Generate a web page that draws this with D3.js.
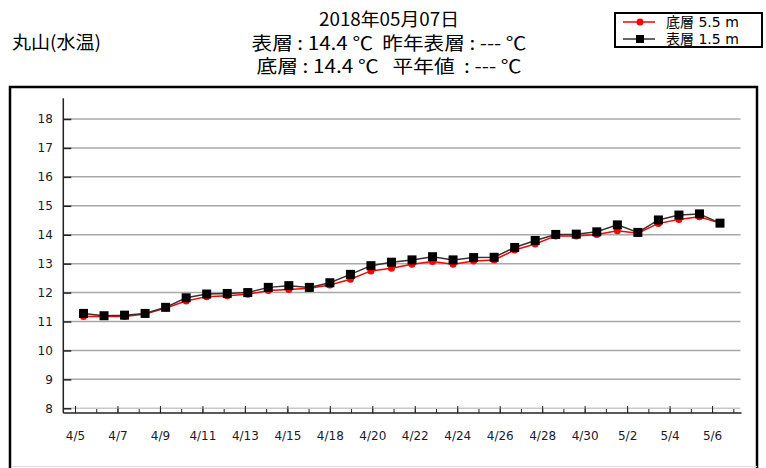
<!DOCTYPE html>
<html>
<head>
<meta charset="utf-8">
<script src="https://cdn.jsdelivr.net/npm/d3@7"></script>
<style>
    body { margin: 0; background: #fff; }
    .canvas { width: 766px; height: 468px; display: block; }
    .jp { font-family: 'Noto Sans CJK JP', sans-serif; white-space: pre; }
    .lg { font-family: 'DejaVu Sans', 'Noto Sans CJK JP', sans-serif; font-size: 14px; }
    .tick text { font-family: 'DejaVu Sans', sans-serif; font-size: 12px; fill: #1a1a2a; }
</style>
</head>
<body>
<svg class="canvas"></svg>
<script>
// chart data
const dates = ['4/5', '4/6', '4/7', '4/8', '4/9', '4/10', '4/11', '4/12', '4/13', '4/14', '4/15', '4/17',
    '4/18', '4/19', '4/20', '4/21', '4/22', '4/23', '4/24', '4/25', '4/26', '4/27', '4/28', '4/29', '4/30',
    '5/1', '5/2', '5/3', '5/4', '5/5', '5/6', '5/7'];
const bottomLayer = [11.17, 11.18, 11.17, 11.26, 11.47, 11.71, 11.86, 11.89, 11.94, 12.07, 12.11, 12.15,
    12.26, 12.46, 12.75, 12.84, 12.98, 13.07, 12.98, 13.09, 13.13, 13.47, 13.68, 13.96, 13.96,
    14.01, 14.14, 14.05, 14.39, 14.53, 14.62, 14.4];
const surfaceLayer = [11.28, 11.2, 11.22, 11.28, 11.49, 11.82, 11.95, 11.97, 12.0, 12.18, 12.24, 12.18,
    12.34, 12.63, 12.93, 13.05, 13.13, 13.24, 13.13, 13.21, 13.22, 13.56, 13.8, 14.01, 14.02,
    14.1, 14.34, 14.08, 14.51, 14.68, 14.72, 14.4];
const yTicks = [8, 9, 10, 11, 12, 13, 14, 15, 16, 17, 18];
const xLabels = dates.filter((d, i) => i % 2 === 0);
const titleLines = ['2018年05月07日', '表層 : 14.4 ℃  昨年表層 : --- ℃', '底層 : 14.4 ℃   平年値  : --- ℃'];
const stationName = '丸山(水温)';
const seriesNames = ['底層 5.5 m', '表層 1.5 m'];

const svg = d3.select('.canvas');

// header texts
svg.append('text')
    .attr('class', 'jp')
    .attr('x', 12)
    .attr('y', 49)
    .attr('textLength', 89)
    .attr('lengthAdjust', 'spacingAndGlyphs')
    .style('font-size', '18px')
    .text(stationName);
const titleWidths = [140, 275, 265];
svg.selectAll('.title')
    .data(titleLines)
    .enter()
    .append('text')
    .attr('class', 'jp title')
    .attr('x', 389)
    .attr('y', (d, i) => 26 + i * 23.5)
    .attr('text-anchor', 'middle')
    .attr('textLength', (d, i) => titleWidths[i])
    .attr('lengthAdjust', 'spacingAndGlyphs')
    .style('font-size', '18px')
    .text((d) => d);

// legend box
const legend = svg.append('g').attr('transform', 'translate(615, 13)');
legend.append('rect')
    .attr('width', 147)
    .attr('height', 34)
    .attr('fill', '#fff')
    .attr('stroke', '#000')
    .attr('stroke-width', 2);
legend.append('line').attr('x1', 8).attr('x2', 40).attr('y1', 9).attr('y2', 9).attr('stroke', '#f00').attr('stroke-width', 1.5);
legend.append('circle').attr('cx', 25).attr('cy', 9).attr('r', 3.5).attr('fill', '#f00');
legend.append('line').attr('x1', 8).attr('x2', 40).attr('y1', 26).attr('y2', 26).attr('stroke', '#333').attr('stroke-width', 1.5);
legend.append('rect').attr('x', 21).attr('y', 22).attr('width', 8).attr('height', 8).attr('fill', '#000');
legend.selectAll('.lg')
    .data(seriesNames)
    .enter()
    .append('text')
    .attr('class', 'lg')
    .attr('x', 51)
    .attr('y', (d, i) => 14 + i * 17)
    .text((d) => d);

// outer frame of the chart
svg.append('rect')
    .attr('x', 10)
    .attr('y', 87)
    .attr('width', 747)
    .attr('height', 400)
    .attr('fill', 'none')
    .attr('stroke', '#000')
    .attr('stroke-width', 2.5);
svg.append('line').attr('x1', 11).attr('x2', 757).attr('y1', 466.5).attr('y2', 466.5).attr('stroke', '#ddd');

// scales
const yScale = d3.scaleLinear().domain([8, 18]).range([408.3, 119]);
const xScale = d3.scalePoint().domain(dates).range([83.5, 720]);
const tickScale = d3.scalePoint().domain(dates).range([75, 733.3]);
const left = 63.3;
const right = 740.5;
const axisY = 413;

// horizontal grid lines
svg.selectAll('.grid')
    .data(yTicks)
    .enter()
    .append('line')
    .attr('x1', left)
    .attr('x2', right)
    .attr('y1', (d) => yScale(d))
    .attr('y2', (d) => yScale(d))
    .attr('stroke', (d) => (d === 8 ? '#c8c8c8' : '#a8a8a8'))
    .attr('stroke-width', 1.5);

// y axis
const yAxis = d3.axisLeft(yScale).tickValues(yTicks).tickSizeInner(-8).tickSizeOuter(0).tickPadding(10.5);
const yg = svg.append('g').attr('transform', `translate(${left}, 0)`).call(yAxis);
yg.select('.domain').remove();
yg.selectAll('.tick line').attr('stroke', '#222').attr('stroke-width', 1.5);
svg.append('line')
    .attr('x1', left).attr('x2', left)
    .attr('y1', yScale(18.72)).attr('y2', axisY)
    .attr('stroke', '#222').attr('stroke-width', 1.5);

// x axis: minor ticks for every day, major ticks with labels every 2 days
const xg = svg.append('g').attr('transform', `translate(0, ${axisY})`);
xg.call(d3.axisBottom(tickScale).tickSizeInner(-4).tickSizeOuter(0).tickFormat(''));
xg.select('.domain').remove();
const xg2 = svg.append('g').attr('transform', `translate(0, ${axisY})`);
xg2.call(d3.axisBottom(tickScale).tickValues(xLabels).tickSizeInner(-7).tickSizeOuter(0).tickPadding(18));
xg2.select('.domain').remove();
svg.selectAll('.tick line').attr('stroke', '#222');
svg.append('line')
    .attr('x1', left).attr('x2', right + 1)
    .attr('y1', axisY).attr('y2', axisY)
    .attr('stroke', '#222').attr('stroke-width', 1.5);

// series lines and markers
const line = d3.line().x((d, i) => xScale(dates[i])).y((d) => yScale(d));
svg.append('path')
    .datum(bottomLayer)
    .attr('d', line)
    .attr('fill', 'none')
    .attr('stroke', '#f00')
    .attr('stroke-width', 1.5);
svg.selectAll('.dot')
    .data(bottomLayer)
    .enter()
    .append('circle')
    .attr('cx', (d, i) => xScale(dates[i]))
    .attr('cy', (d) => yScale(d))
    .attr('r', 3.5)
    .attr('fill', '#f00');
svg.append('path')
    .datum(surfaceLayer)
    .attr('d', line)
    .attr('fill', 'none')
    .attr('stroke', '#333')
    .attr('stroke-width', 1.5);
svg.selectAll('.sq')
    .data(surfaceLayer)
    .enter()
    .append('rect')
    .attr('x', (d, i) => xScale(dates[i]) - 4.5)
    .attr('y', (d) => yScale(d) - 4.5)
    .attr('width', 9)
    .attr('height', 9)
    .attr('fill', '#000');
</script>
</body>
</html>
